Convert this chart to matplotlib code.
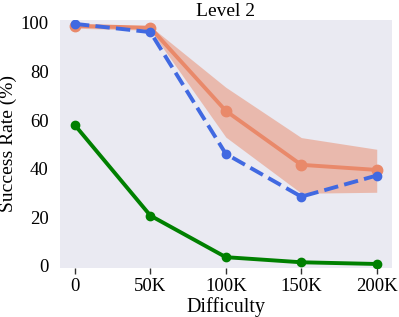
import matplotlib
matplotlib.use('Agg')
import matplotlib.pyplot as plt
import numpy as np

plt.rcParams['font.family'] = ['Liberation Serif', 'DejaVu Serif']

labels = ['0', '50K', '100K', '150K', '200K']
orange_mean = [98.8, 98.0, 63.8, 41.6, 39.5]
orange_low = [97.8, 97.0, 53.0, 29.9, 30.3]
orange_high = [99.6, 98.6, 73.5, 52.8, 48.0]
blue = [99.6, 96.2, 46.1, 28.5, 37.2]
green = [57.9, 20.7, 3.6, 1.5, 0.8]

x = np.arange(len(labels))

fig = plt.figure(figsize=(3.99, 3.17), dpi=100)
ax = fig.add_axes([0.150, 0.155, 0.832, 0.782])
ax.set_facecolor('#EAEAF2')
for s in ax.spines.values():
    s.set_visible(False)

ax.fill_between(x, orange_low, orange_high, color='#E9896A', alpha=0.5, linewidth=0)
ax.plot(x, orange_mean, '-o', color='#E9896A', lw=2.8, ms=7.5)
ax.plot(x, blue, '--o', color='#4169E1', lw=2.8, ms=6)
ax.plot(x, green, '-o', color='green', lw=2.8, ms=6)

ax.set_xticks(x)
ax.set_xticklabels(labels)
ax.set_yticks([0, 20, 40, 60, 80, 100])
ax.set_xlim(-0.2, 4.2)
ax.set_ylim(-0.8, 101.2)
ax.tick_params(axis='x', length=4, width=1, color='#333333', labelsize=13.5, pad=3)
ax.tick_params(axis='y', length=0, labelsize=13.5, pad=8)
ax.set_xlabel('Difficulty', fontsize=14.5)
ax.set_ylabel('Success Rate (%)', fontsize=14)
ax.xaxis.set_label_coords(0.5, -0.118)
ax.yaxis.set_label_coords(-0.128, 0.5)
ax.set_title('Level 2', fontsize=14, pad=2)

fig.savefig('out.png')
